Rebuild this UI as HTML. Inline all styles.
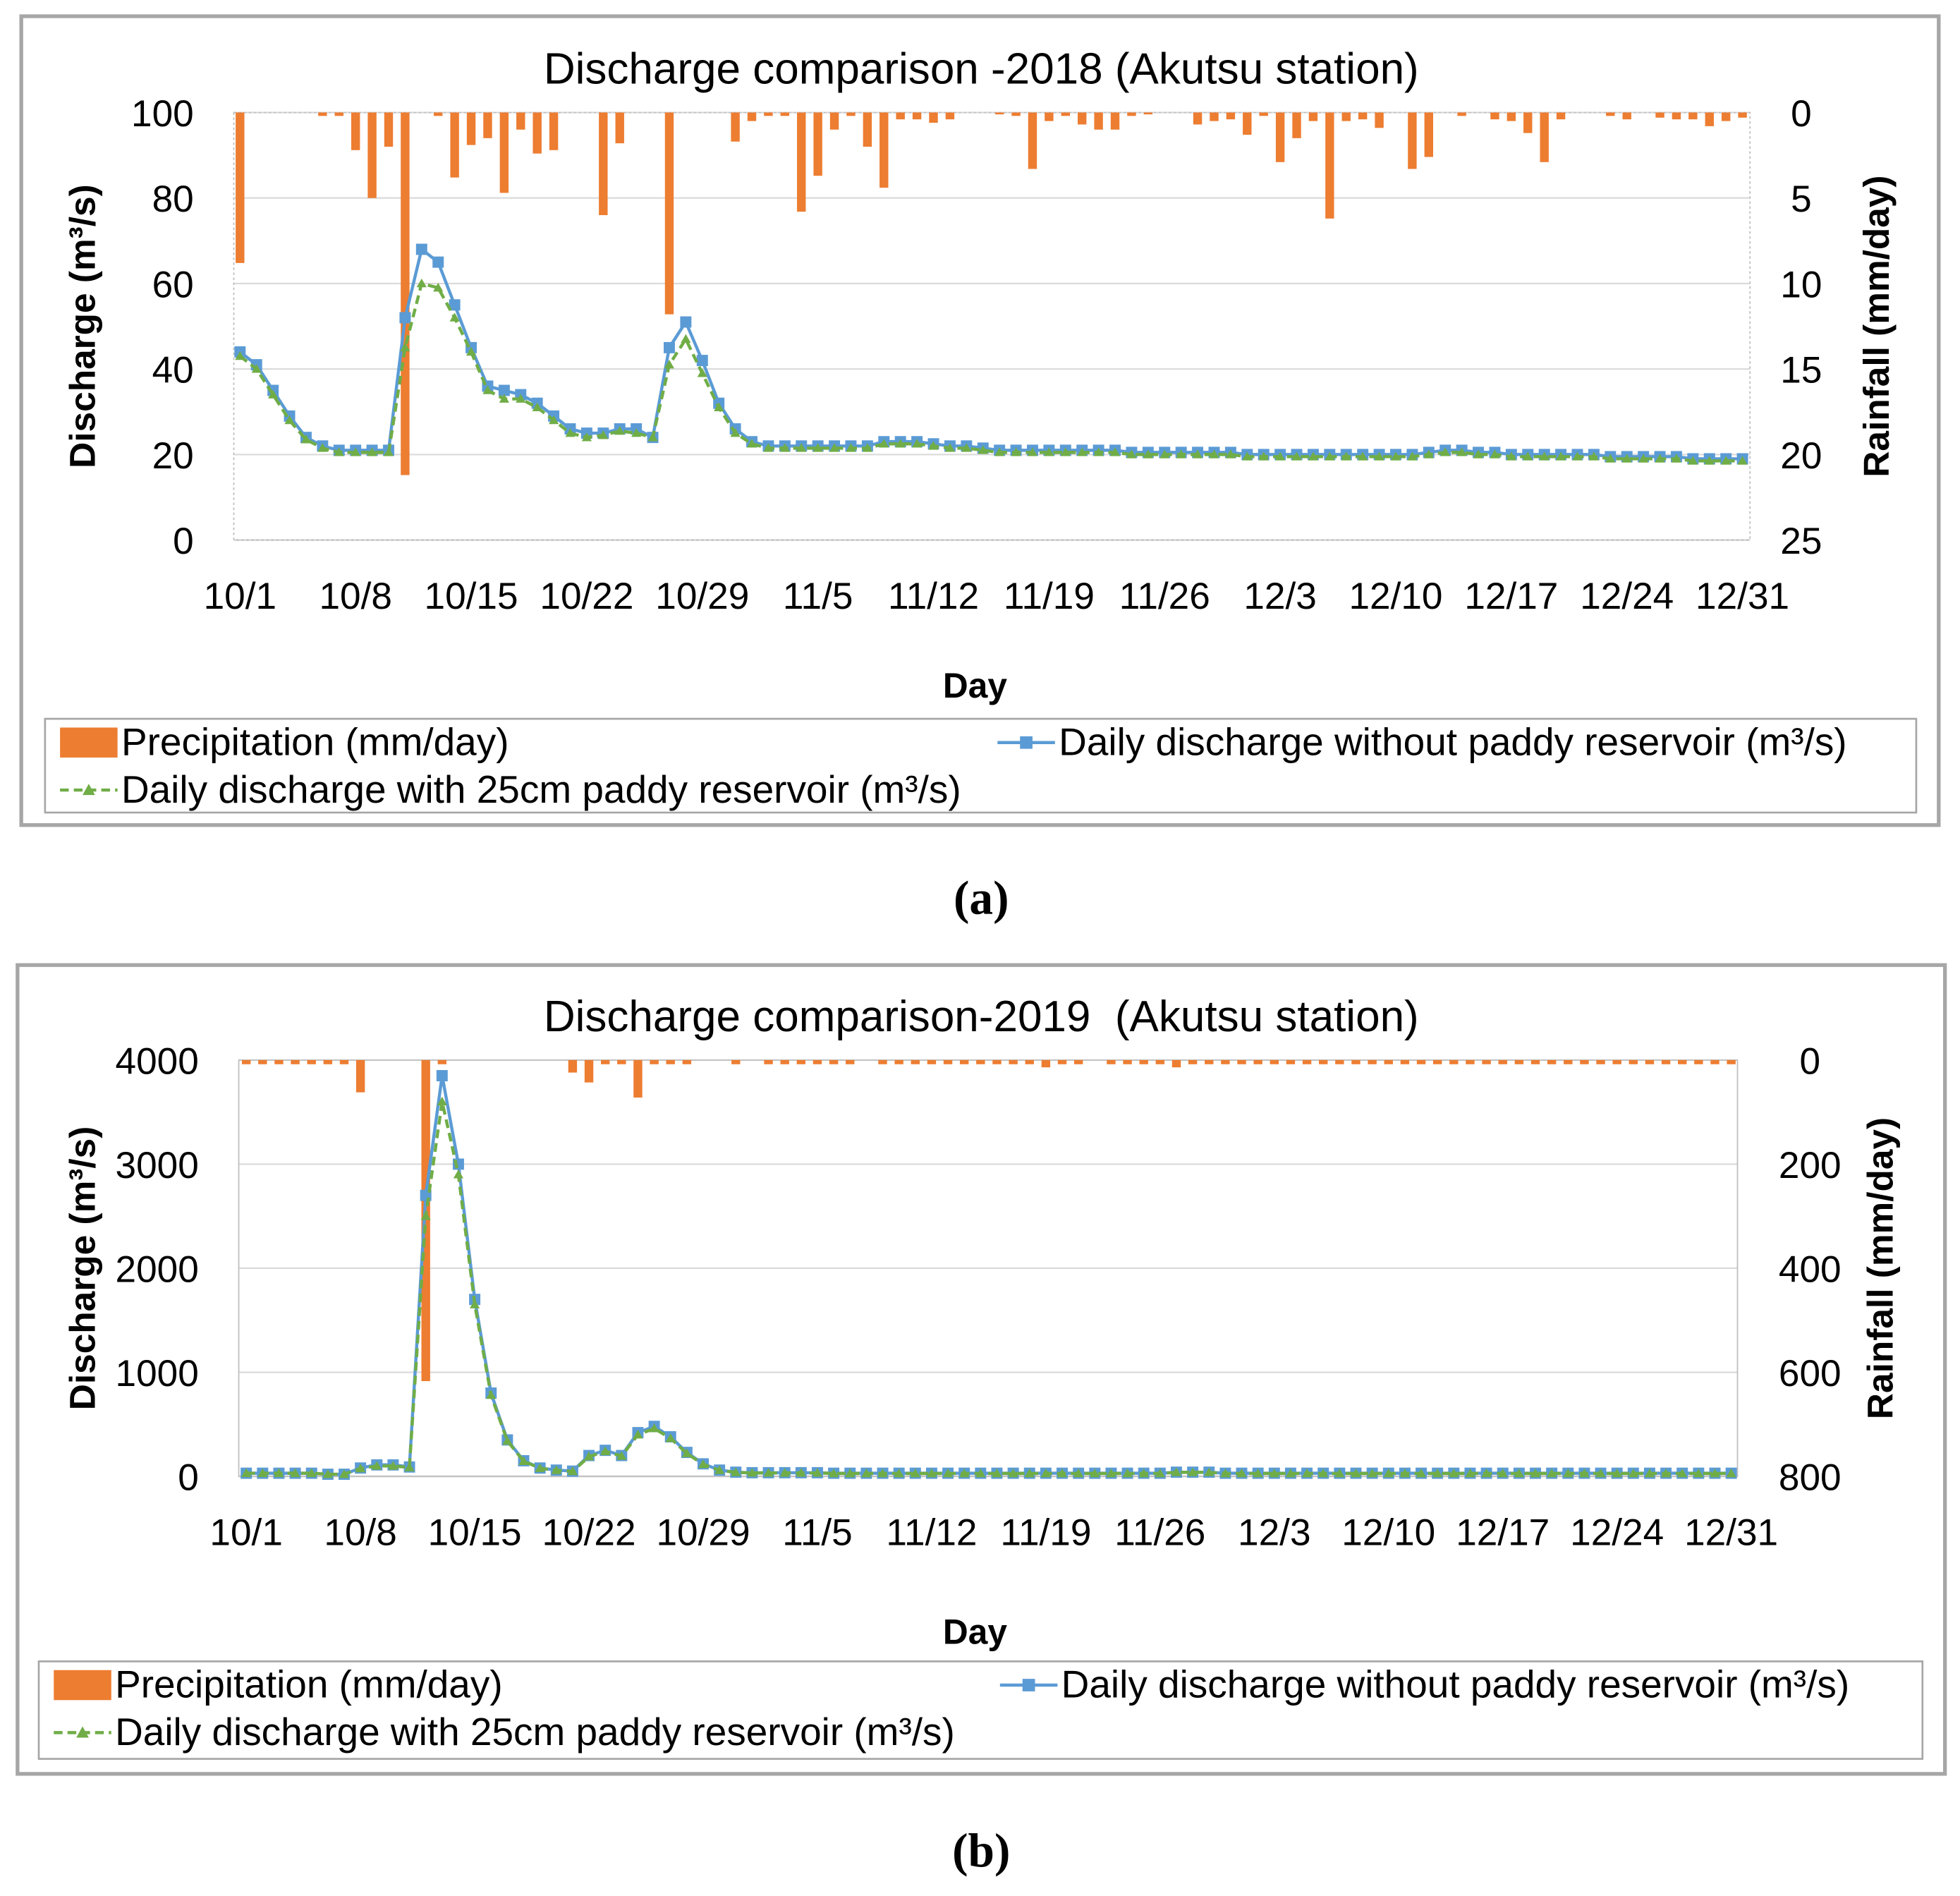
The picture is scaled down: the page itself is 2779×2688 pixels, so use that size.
<!DOCTYPE html>
<html><head><meta charset="utf-8"><style>
html,body{margin:0;padding:0;background:#fff}
svg{display:block}
text{font-family:"Liberation Sans",sans-serif;fill:#000}
</style></head><body>
<svg id="root" width="2779" height="2688" viewBox="0 0 1568 1516.7" xmlns="http://www.w3.org/2000/svg">
<rect x="0" y="0" width="1568" height="1517" fill="#fff"/>
<g id="chartA"></g>
<g id="chartB"></g>
<text x="785" y="731" font-size="38" font-weight="bold" text-anchor="middle" style="font-family:'Liberation Serif',serif">(a)</text>
<text x="785" y="1493" font-size="38" font-weight="bold" text-anchor="middle" style="font-family:'Liberation Serif',serif">(b)</text>
</svg>
<script>
const xLabels = ["10/1","10/8","10/15","10/22","10/29","11/5","11/12","11/19","11/26","12/3","12/10","12/17","12/24","12/31"];
const xLabelDays = [0,7,14,21,28,35,42,49,56,63,70,77,84,91];

const rainA = [8.8,0,0,0,0,0.2,0.2,2.2,5.0,2.0,21.2,0,0.2,3.8,1.9,1.5,4.7,1.0,2.4,2.2,0,0,6.0,1.8,0,0,11.8,0,0,0,1.7,0.5,0.2,0.2,5.8,3.7,1.0,0.2,2.0,4.4,0.4,0.4,0.6,0.4,0,0,0.1,0.2,3.3,0.5,0.2,0.7,1.0,1.0,0.2,0.1,0,0,0.7,0.5,0.4,1.3,0.2,2.9,1.5,0.5,6.2,0.5,0.4,0.9,0,3.3,2.6,0,0.2,0,0.4,0.5,1.2,2.9,0.4,0,0,0.2,0.4,0,0.3,0.4,0.4,0.8,0.5,0.3];
const dischargeA = [44,41,35,29,24,22,21,21,21,21,52,68,65,55,45,36,35,34,32,29,26,25,25,26,26,24,45,51,42,32,26,23,22,22,22,22,22,22,22,23,23,23,22.5,22,22,21.5,21,21,21,21,21,21,21,21,20.5,20.5,20.5,20.5,20.5,20.5,20.5,20,20,20,20,20,20,20,20,20,20,20,20.5,21,21,20.5,20.5,20,20,20,20,20,20,19.5,19.5,19.5,19.5,19.5,19,19,19,19];
const dischargePaddyA = [43,40,34,28,23.5,21.5,20.5,20.5,20.5,20.5,45,60,59,52,44,35,33,33,31,28,25,24,24.5,25.5,25,24,41,47,39,31,25,22.5,21.5,21.5,21.5,21.5,21.5,21.5,21.5,22.5,22.5,22.5,22,21.5,21.5,21,20.5,20.5,20.5,20.5,20.5,20.5,20.5,20.5,20,20,20,20,20,20,20,19.5,19.5,19.5,19.5,19.5,19.5,19.5,19.5,19.5,19.5,19.5,20,20.5,20.5,20,20,19.5,19.5,19.5,19.5,19.5,19.5,19,19,19,19,19,18.5,18.5,18.5,18.5];

const rainB = [8,8,8,8,8,8,8,62,0,0,0,617,8,0,0,0,0,0,0,0,24,43,8,8,72,8,8,8,0,0,8,0,8,8,8,8,8,8,0,8,8,8,8,8,8,8,8,8,8,14,8,8,0,8,8,8,8,14,8,8,8,8,8,8,8,8,8,8,8,8,8,8,8,8,8,8,8,8,8,8,8,8,8,8,8,8,8,8,8,8,8,8];
const dischargeB = [30,30,30,30,30,20,20,80,110,110,90,2700,3850,3000,1700,800,350,150,80,60,50,200,250,200,420,480,380,230,120,60,40,35,35,35,35,35,30,30,30,30,30,30,30,30,30,30,30,30,30,30,30,30,30,30,30,30,30,40,40,40,30,30,30,30,30,30,30,30,30,30,30,30,30,30,30,30,30,30,30,30,30,30,30,30,30,30,30,30,30,30,30,30];
const dischargePaddyB = [30,30,30,30,30,20,20,75,100,100,85,2500,3600,2900,1650,780,340,145,78,58,48,190,240,195,400,460,365,220,115,58,38,33,33,33,33,33,28,28,28,28,28,28,28,28,28,28,28,28,28,28,28,28,28,28,28,28,28,38,38,38,28,28,28,28,28,28,28,28,28,28,28,28,28,28,28,28,28,28,28,28,28,28,28,28,28,28,28,28,28,28,28,28];

const leftTicksA=[0,20,40,60,80,100], rightTicksA=[0,5,10,15,20,25];
const leftTicksB=[0,1000,2000,3000,4000], rightTicksB=[0,200,400,600,800];
const NS="http://www.w3.org/2000/svg";
function mk(p,tag,at,txt){const e=document.createElementNS(NS,tag);for(const k in at)e.setAttribute(k,at[k]);if(txt!==undefined)e.textContent=txt;p.appendChild(e);return e;}

function chart(g,o){
  const fr=mk(g,'rect',{x:o.fx,y:o.fy,width:o.fw,height:o.fh,fill:'#fff',stroke:'#a6a6a6','stroke-width':3});
  
  
  const X=d=>o.x0+d*(o.x1-o.x0)/91;
  const Y=v=>o.yb-(v/o.ymax)*(o.yb-o.yt);
  const R=v=>o.yt+(v/o.rmax)*(o.yb-o.yt);
  o.lt.forEach(t=>{
    if(t>0){const l=mk(g,'line',{x1:o.px0,x2:o.px1,y1:Y(t),y2:Y(t),stroke:'#d9d9d9','stroke-width':1.2});
    
    }
    const tx=mk(g,'text',{x:o.px0-32,y:Y(t)+11,'font-size':30,'text-anchor':'end'},t);
    
    
  });
  o.rt.forEach(t=>{
    const tx=mk(g,'text',{x:o.rtx,y:R(t)+11,'font-size':30,'text-anchor':'middle'},t);
    
    
  });
  const ax=mk(g,'line',{x1:o.px0,x2:o.px1,y1:o.yb,y2:o.yb,stroke:'#d9d9d9','stroke-width':1.5});
  
  
  mk(g,'rect',{x:o.px0,y:o.yt,width:o.px1-o.px0,height:o.yb-o.yt,fill:'none',stroke:'#bfbfbf','stroke-width':1,'stroke-dasharray':o.dash?'2,2':'none'});
  o.rain.forEach((v,i)=>{if(v<=0)return;
    const b=mk(g,'rect',{x:X(i)-3.5,y:o.yt,width:7,height:Math.max(R(v)-o.yt,1.5),fill:'#ed7d31'});
    
    
  });
  const pts=a=>a.map((v,i)=>X(i).toFixed(1)+','+Y(v).toFixed(1)).join(' ');
  const lb=mk(g,'polyline',{points:pts(o.q),fill:'none',stroke:'#5b9bd5','stroke-width':2.5});
  
  
  o.q.forEach((v,i)=>{const m=mk(g,'rect',{x:X(i)-4.5,y:Y(v)-4.5,width:9,height:9,fill:'#5b9bd5'});
    
    });
  const lg=mk(g,'polyline',{points:pts(o.qp),fill:'none',stroke:'#70ad47','stroke-width':2.5,'stroke-dasharray':'7,4'});
  
  
  o.qp.forEach((v,i)=>{const m=mk(g,'polygon',{points:`${X(i)},${Y(v)-4} ${X(i)-4},${Y(v)+3} ${X(i)+4},${Y(v)+3}`,fill:'#70ad47'});
    
    });
  xLabels.forEach((s,k)=>{const t=mk(g,'text',{x:X(xLabelDays[k]),y:o.xly,'font-size':30,'text-anchor':'middle'},s);
    
    });
  const ti=mk(g,'text',{x:785,y:o.ty,'font-size':35,'text-anchor':'middle','xml:space':'preserve'},o.title);
  
  
  const xt=mk(g,'text',{x:780,y:o.xty,'font-size':28,'font-weight':'bold','text-anchor':'middle'},'Day');
  
  
  const cy=(o.yt+o.yb)/2;
  const yl=mk(g,'text',{x:0,y:0,'font-size':29,'font-weight':'bold','text-anchor':'middle',transform:`translate(${o.ylx},${cy}) rotate(-90)`},'Discharge (m³/s)');
  
  
  const yr=mk(g,'text',{x:0,y:0,'font-size':29,'font-weight':'bold','text-anchor':'middle',transform:`translate(${o.yrx},${cy}) rotate(-90)`},'Rainfall (mm/day)');
  
  
  const L=o.leg;
  const lb2=mk(g,'rect',{x:L.x,y:L.y,width:L.w,height:L.h,fill:'#fff',stroke:'#a6a6a6','stroke-width':1.5});
  
  
  const r1=L.y+19, r2=L.y+57;
  mk(g,'rect',{x:L.x+12,y:r1-12,width:46,height:24,fill:'#ed7d31'});
  const e1=mk(g,'text',{x:L.x+61,y:r1+10,'font-size':31},'Precipitation (mm/day)');
  
  
  mk(g,'line',{x1:L.bx,x2:L.bx+46,y1:r1,y2:r1,stroke:'#5b9bd5','stroke-width':2.5});
  mk(g,'rect',{x:L.bx+18,y:r1-5,width:10,height:10,fill:'#5b9bd5'});
  const e2=mk(g,'text',{x:L.bx+49,y:r1+10,'font-size':31},'Daily discharge without paddy reservoir (m³/s)');
  
  
  mk(g,'line',{x1:L.x+12,x2:L.x+58,y1:r2,y2:r2,stroke:'#70ad47','stroke-width':2.5,'stroke-dasharray':'7,4'});
  mk(g,'polygon',{points:`${L.x+35},${r2-5} ${L.x+30},${r2+4} ${L.x+40},${r2+4}`,fill:'#70ad47'});
  const e3=mk(g,'text',{x:L.x+61,y:r2+10,'font-size':31},'Daily discharge with 25cm paddy reservoir (m³/s)');
  
  
}
chart(document.getElementById('chartA'),{fx:17,fy:13,fw:1534,fh:647,x0:192,x1:1394,px0:187,px1:1400,yt:90,yb:432,ymax:100,rmax:25,
  lt:leftTicksA,rt:rightTicksA,rtx:1441,rain:rainA,q:dischargeA,qp:dischargePaddyA,xly:487,ty:67,xty:558,ylx:76,yrx:1511,dash:true,title:'Discharge comparison -2018 (Akutsu station)',
  leg:{x:36,y:575,w:1497,h:75,bx:798}});
chart(document.getElementById('chartB'),{fx:14,fy:772,fw:1542,fh:647,x0:197,x1:1385,px0:191,px1:1390,yt:848,yb:1181,ymax:4000,rmax:800,
  lt:leftTicksB,rt:rightTicksB,rtx:1448,rain:rainB,q:dischargeB,qp:dischargePaddyB,xly:1236,ty:825,xty:1315,ylx:76,yrx:1514,dash:false,title:'Discharge comparison-2019\u00a0\u00a0(Akutsu station)',
  leg:{x:31,y:1329,w:1507,h:78,bx:800}});
</script>
</body></html>
